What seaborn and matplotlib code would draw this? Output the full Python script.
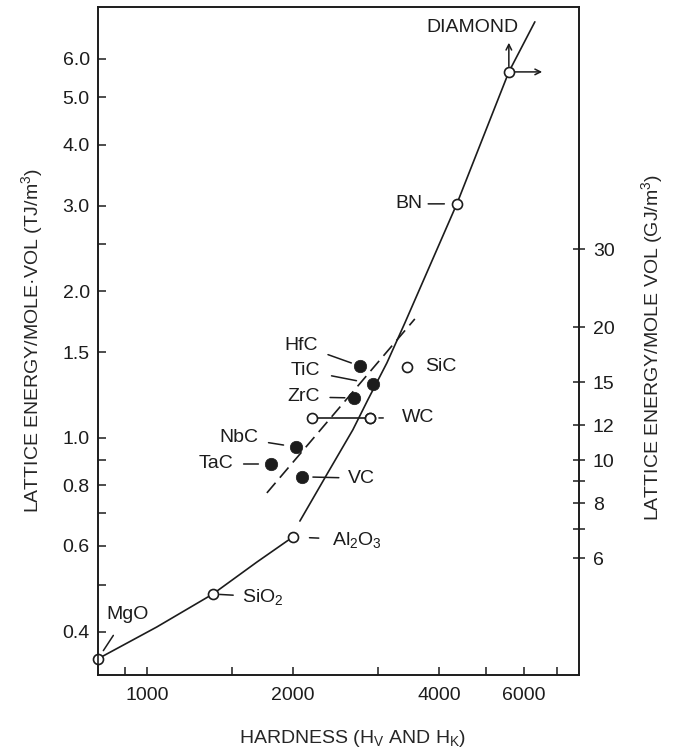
import matplotlib
matplotlib.use("Agg")
import matplotlib.pyplot as plt
from matplotlib.ticker import FixedLocator, FixedFormatter, NullLocator
import seaborn as sns
import pandas as pd

# values: hardness (Hv / Hk) vs lattice energy per mole volume (TJ/m3)
open_labels = ["MgO", "SiO$\\mathregular{_2}$", "Al$\\mathregular{_2}$O$\\mathregular{_3}$",
               "WC", "SiC", "BN", "DIAMOND"]
open_hardness = [793, 1368, 2000, 2883, 3437, 4357, 5577]
open_energy = [0.352, 0.478, 0.626, 1.099, 1.399, 3.024, 5.643]

# WC has a hardness range
wc_hardness = [2188, 2883]
wc_energy = [1.099, 1.099]

carbide_labels = ["HfC", "TiC", "ZrC", "NbC", "TaC", "VC"]
carbide_hardness = [2749, 2924, 2672, 2029, 1802, 2087]
carbide_energy = [1.405, 1.291, 1.208, 0.958, 0.884, 0.832]

curve_low_h = [793, 1048, 1368, 1686, 2000]
curve_low_e = [0.352, 0.409, 0.478, 0.556, 0.626]
curve_high_h = [2068, 2361, 2659, 2855, 3126, 3404, 4357, 5577, 6310]
curve_high_e = [0.675, 0.848, 1.039, 1.197, 1.426, 1.722, 3.024, 5.643, 7.15]

dashed_h = [1768, 3569]
dashed_e = [0.771, 1.755]

x_ticks = [900, 1000, 1500, 2000, 3000, 4000, 5000, 6000, 7000]
x_ticklabels = ["", "1000", "", "2000", "", "4000", "", "6000", ""]
y_ticks = [0.4, 0.5, 0.6, 0.7, 0.8, 0.9, 1.0, 1.5, 2.0, 2.5, 3.0, 4.0, 5.0, 6.0]
y_ticklabels = ["0.4", "", "0.6", "", "0.8", "", "1.0", "1.5", "2.0", "", "3.0", "4.0", "5.0", "6.0"]
y2_ticks = [6, 7, 8, 9, 10, 12, 15, 20, 30]
y2_ticklabels = ["6", "", "8", "", "10", "12", "15", "20", "30"]

# label placement (offset in points, alignment, leader shrink A/B); None = no leader
label_layout = {
    "MgO": ((21, 32), "center", (8, 7)),
    "SiO$\\mathregular{_2}$": ((21, -2), "left", (4, 5)),
    "Al$\\mathregular{_2}$O$\\mathregular{_3}$": ((28, -2), "left", (7, 12)),
    "WC": ((23, 0), "left", (11, 6.5)),
    "SiC": ((13, 0), "left", None),
    "BN": ((-25, 0), "right", (2, 9)),
    "DIAMOND": ((7, 32), "right", None),
    "HfC": ((-30, 15), "right", (5, 6.5)),
    "TiC": ((-38, 9.5), "right", (6, 12)),
    "ZrC": ((-24.5, 0.7), "right", (5, 6.5)),
    "NbC": ((-27, 6.5), "right", (5, 9)),
    "TaC": ((-27, 0), "right", (5, 9)),
    "VC": ((33, -1), "left", (4, 8)),
}

ink = "#1c1c1c"
sns.set_style("ticks")
plt.rcParams["font.family"] = ["Liberation Sans", "DejaVu Sans"]
plt.rcParams["mathtext.fontset"] = "custom"
plt.rcParams["mathtext.rm"] = "Liberation Sans"
plt.rcParams["text.color"] = ink
plt.rcParams["axes.edgecolor"] = ink
plt.rcParams["xtick.color"] = ink
plt.rcParams["ytick.color"] = ink

fig = plt.figure(figsize=(6.74, 7.52), dpi=100)
ax = fig.add_axes([0.1454, 0.1024, 0.7136, 0.8883])
ax.set_xscale("log")
ax.set_yscale("log")

curve = pd.DataFrame({
    "h": curve_low_h + curve_high_h,
    "e": curve_low_e + curve_high_e,
    "seg": ["low"] * len(curve_low_h) + ["high"] * len(curve_high_h),
})
sns.lineplot(data=curve, x="h", y="e", units="seg", estimator=None, sort=False,
             color=ink, lw=1.2, ax=ax, zorder=2)

dashed = pd.DataFrame({"h": dashed_h, "e": dashed_e})
sns.lineplot(data=dashed, x="h", y="e", estimator=None, sort=False, color=ink,
             lw=1.2, dashes=False, ax=ax, zorder=2)
ax.lines[-1].set_linestyle((0, (8, 4)))

wc = pd.DataFrame({"h": wc_hardness, "e": wc_energy})
sns.lineplot(data=wc, x="h", y="e", estimator=None, color=ink, lw=1.2, ax=ax, zorder=2)
sns.scatterplot(data=wc, x="h", y="e", s=52, facecolor="white", edgecolor=ink,
                linewidth=1.2, ax=ax, zorder=4, legend=False)

opens = pd.DataFrame({"h": open_hardness, "e": open_energy, "name": open_labels})
sns.scatterplot(data=opens, x="h", y="e", s=52, facecolor="white", edgecolor=ink,
                linewidth=1.2, ax=ax, zorder=4, legend=False, clip_on=False)

carbides = pd.DataFrame({"h": carbide_hardness, "e": carbide_energy, "name": carbide_labels})
sns.scatterplot(data=carbides, x="h", y="e", s=80, color=ink, edgecolor=ink,
                linewidth=0.5, ax=ax, zorder=4, legend=False)

for df in (opens, carbides):
    for _, row in df.iterrows():
        off, ha, shrink = label_layout[row["name"]]
        arrow = None
        if shrink is not None:
            arrow = dict(arrowstyle="-", color=ink, lw=1.1,
                         shrinkA=shrink[0], shrinkB=shrink[1])
        ax.annotate(row["name"], xy=(row["h"], row["e"]), xytext=off,
                    textcoords="offset points", ha=ha, va="center",
                    fontsize=14, arrowprops=arrow, zorder=5)

# diamond is a lower bound: arrows up and right
dia_h, dia_e = open_hardness[-1], open_energy[-1]
for off in [(0, 21), (24, 0)]:
    ax.annotate("", xy=(dia_h, dia_e), xytext=off, textcoords="offset points",
                arrowprops=dict(arrowstyle="<-", color=ink, lw=1.1,
                                shrinkA=0, shrinkB=4, mutation_scale=10))

ax.set_xlim(793, 7780)
ax.set_ylim(0.326, 7.67)
ax.xaxis.set_major_locator(FixedLocator(x_ticks))
ax.xaxis.set_major_formatter(FixedFormatter(x_ticklabels))
ax.xaxis.set_minor_locator(NullLocator())
ax.yaxis.set_major_locator(FixedLocator(y_ticks))
ax.yaxis.set_major_formatter(FixedFormatter(y_ticklabels))
ax.yaxis.set_minor_locator(NullLocator())
ax.tick_params(axis="both", direction="in", length=6, width=1.1, labelsize=14)
ax.tick_params(axis="x", pad=9)
ax.tick_params(axis="y", pad=6)
for sp in ax.spines.values():
    sp.set_linewidth(1.2)

ax.set_xlabel("HARDNESS (H$\\mathregular{_V}$ AND H$\\mathregular{_K}$)", fontsize=14)
ax.set_ylabel("LATTICE ENERGY/MOLE\u00b7VOL (TJ/m$\\mathregular{^3}$)", fontsize=14)
ax.xaxis.set_label_coords(0.53, -0.079)
ax.yaxis.set_label_coords(-0.11, 0.5)

ax2 = ax.twinx()
ax2.set_yscale("log")
ax2.set_ylim(3.27, 106)
ax2.yaxis.set_major_locator(FixedLocator(y2_ticks))
ax2.yaxis.set_major_formatter(FixedFormatter(y2_ticklabels))
ax2.yaxis.set_minor_locator(NullLocator())
ax2.tick_params(axis="y", direction="inout", length=8, width=1.1, labelsize=14, pad=6)
ax2.set_ylabel("LATTICE ENERGY/MOLE VOL (GJ/m$\\mathregular{^3}$)", fontsize=14)
ax2.yaxis.set_label_coords(1.125, 0.49)
for sp in ax2.spines.values():
    sp.set_linewidth(1.2)

fig.savefig("out.png", dpi=100)
